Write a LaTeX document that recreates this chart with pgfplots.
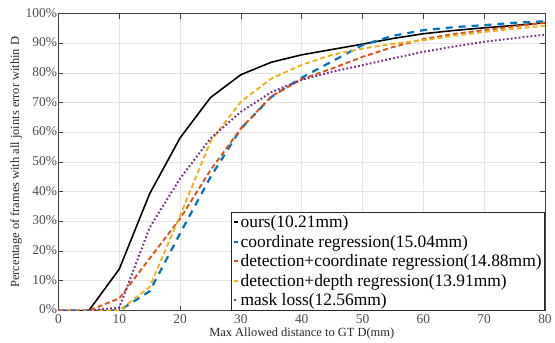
\documentclass[border=0pt]{standalone}
\usepackage{fontspec}
\setmainfont{Liberation Serif}
\usepackage{pgfplots}
\pgfplotsset{compat=1.18}
\definecolor{mblue}{rgb}{0,0.447,0.741}
\definecolor{morange}{rgb}{0.85,0.325,0.098}
\definecolor{myellow}{rgb}{0.929,0.694,0.125}
\definecolor{mpurple}{rgb}{0.494,0.184,0.556}
\begin{document}
\begin{tikzpicture}
\begin{axis}[
  scale only axis,
  width=487bp, height=297bp,
  xmin=0, xmax=80, ymin=0, ymax=100,
  xtick={0,10,...,80}, ytick={0,10,...,100},
  yticklabel={\pgfmathprintnumber{\tick}\%},
  /pgf/number format/assume math mode=true,
  tick label style={font=\fontsize{13.5}{14}\selectfont, text=black!70},
  yticklabel style={xshift=2pt, yshift=1pt},
  grid=major,
  major grid style={gray!22, line width=0.8pt},
  axis line style={black!75, line width=0.8pt},
  tick style={black!75, line width=0.8pt},
  major tick length=5bp,
  tick align=inside,
  xlabel={Max Allowed distance to GT D(mm)},
  ylabel={Percentage of frames with all joints error within D},
  label style={font=\fontsize{12.5}{13}\selectfont, text=black!85},
  xlabel style={yshift=2pt},
  ylabel style={yshift=-3pt},
  legend style={at={(rel axis cs:1,0)}, anchor=south east, font=\fontsize{17.5}{18}\selectfont,
    draw=black!85, line width=0.8pt, row sep=2pt, inner sep=1pt},
  legend cell align=left,
  legend image code/.code={\draw[#1] (0cm,0cm) -- (0.13cm,0cm);},
]
\addplot[black, line width=1.6pt] coordinates {
(0,0) (5,0) (10,14) (15,39.4) (20,58.2) (25,71.8) (30,79.5) (35,83.7) (40,86.2) (45,88) (50,89.8) (55,91.7) (60,93.3) (65,94.4) (70,95.3) (75,96.1) (80,97)};
\addlegendentry{ours(10.21mm)}
\addplot[mblue, line width=2.2pt, dash pattern=on 7pt off 6pt] coordinates {
(0,0) (5,0) (10,0) (15,6.5) (20,26) (25,45) (30,61.3) (35,72) (40,78.5) (45,84) (50,89.5) (55,92.6) (60,94.5) (65,95.5) (70,96.2) (75,97) (80,97.5)};
\addlegendentry{coordinate regression(15.04mm)}
\addplot[morange, line width=1.9pt, dash pattern=on 5pt off 3pt] coordinates {
(0,0) (5,0) (10,4.1) (15,17.6) (20,31) (25,47.3) (30,61.4) (35,72.2) (40,78) (45,81.6) (50,85.5) (55,88.8) (60,91.5) (65,93.2) (70,94.5) (75,95.8) (80,97)};
\addlegendentry{detection+coordinate regression(14.88mm)}
\addplot[myellow, line width=1.9pt, dash pattern=on 5pt off 3pt] coordinates {
(0,0) (5,0) (10,0) (15,8) (20,32) (25,57) (30,70.4) (35,78.2) (40,82.8) (45,86.2) (50,88.3) (55,89.9) (60,91.1) (65,92.6) (70,93.9) (75,95) (80,96)};
\addlegendentry{detection+depth regression(13.91mm)}
\addplot[mpurple, line width=2pt, dash pattern=on 1.8pt off 2.2pt] coordinates {
(0,0) (5,0) (10,1) (15,28) (20,44.5) (25,58) (30,67) (35,73.6) (40,77.8) (45,80.5) (50,82.7) (55,85) (60,87.2) (65,89) (70,90.6) (75,91.8) (80,93)};
\addlegendentry{mask loss(12.56mm)}
\end{axis}
\path ([xshift=-7bp]current bounding box.west);
\path ([yshift=5bp]current bounding box.north);
\end{tikzpicture}
\end{document}
